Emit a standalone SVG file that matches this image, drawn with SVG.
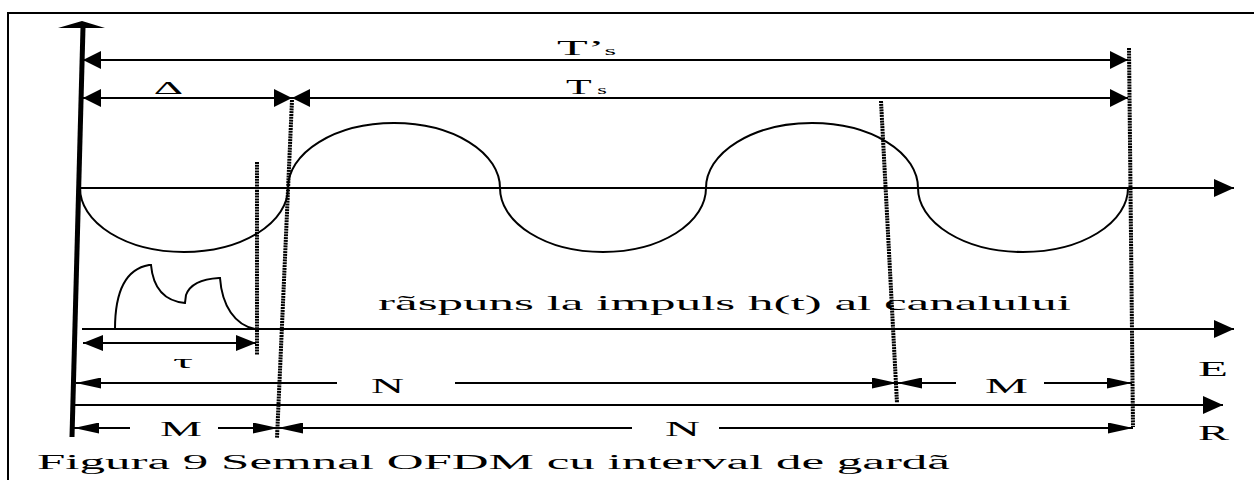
<svg xmlns="http://www.w3.org/2000/svg" width="1254" height="480" viewBox="0 0 1254 480">
<style>
.ln{stroke:#000;stroke-width:2;fill:none}
.dot{stroke:#000;stroke-width:4;stroke-dasharray:2 0.8;fill:none}
.curve{stroke:#000;stroke-width:2;fill:none}
text{font-family:"Liberation Serif","Times New Roman",serif;fill:#000}
</style>
<defs>
<marker id="big" viewBox="0 0 18 18" refX="18" refY="9" markerWidth="18" markerHeight="18" markerUnits="userSpaceOnUse" orient="auto-start-reverse"><path d="M0,0 L18,9 L0,18 z"/></marker>
<marker id="ax" viewBox="0 0 20 18" refX="20" refY="9" markerWidth="20" markerHeight="18" markerUnits="userSpaceOnUse" orient="auto-start-reverse"><path d="M0,0 L20,9 L0,18 z"/></marker>
<marker id="tau" viewBox="0 0 20 16" refX="20" refY="8" markerWidth="20" markerHeight="16" markerUnits="userSpaceOnUse" orient="auto-start-reverse"><path d="M0,0 L20,8 L0,16 z"/></marker>
<marker id="thin" viewBox="0 0 25 11" refX="25" refY="5.5" markerWidth="25" markerHeight="11" markerUnits="userSpaceOnUse" orient="auto-start-reverse"><path d="M0,0 L25,5.5 L0,11 z"/></marker>
</defs>
<rect x="0" y="0" width="1254" height="480" fill="#fff"/>
<rect x="8" y="13" width="1300" height="520" fill="none" stroke="#000" stroke-width="2"/>

<g id="vertical-axis">
<line x1="83" y1="27" x2="72" y2="437" stroke="#000" stroke-width="5"/>
<polygon points="58,28 82,21 105,28"/>
</g>

<g id="ofdm-signal">
<path class="curve" d="M80,188 A104,64 0 0 0 288,188 A106,65 0 0 1 500,188 A103,64 0 0 0 706,188 A106,65 0 0 1 918,188 A105,64 0 0 0 1128,188"/>
</g>

<g id="impulse-response">
<path class="curve" stroke-width="2.5" d="M115,329 C115,292 126,269 149,265 L151,265 C153,287 164,301 185,303 L186,295 C190,284 202,279 219,278 L220,278 C222,306 235,325 255,329"/>
</g>

<g id="guard-lines">
<line class="dot" x1="257" y1="162" x2="257" y2="355"/>
<line class="dot" x1="292" y1="100" x2="277" y2="438"/>
<line class="dot" x1="881" y1="101" x2="897" y2="403"/>
<line class="dot" x1="1129" y1="48" x2="1133" y2="427"/>
</g>

<g id="connectors">
<line class="ln" x1="83" y1="60" x2="1128" y2="60" marker-start="url(#big)" marker-end="url(#big)"/>
<line class="ln" x1="83" y1="98" x2="292" y2="98" marker-start="url(#big)" marker-end="url(#big)"/>
<line class="ln" x1="292" y1="98" x2="1128" y2="98" marker-start="url(#big)" marker-end="url(#big)"/>
<line class="ln" x1="80" y1="188" x2="1234" y2="188" marker-end="url(#ax)"/>
<line class="ln" x1="82" y1="329" x2="1234" y2="329" marker-end="url(#ax)"/>
<line class="ln" x1="83" y1="343" x2="256" y2="343" marker-start="url(#tau)" marker-end="url(#tau)"/>
<line class="ln" x1="76" y1="383" x2="337" y2="383" marker-start="url(#thin)"/>
<line class="ln" x1="455" y1="383" x2="897" y2="383" marker-end="url(#thin)"/>
<line class="ln" x1="897" y1="383" x2="956" y2="383" marker-start="url(#thin)"/>
<line class="ln" x1="1044" y1="383" x2="1132" y2="383" marker-end="url(#thin)"/>
<line class="ln" x1="74" y1="405" x2="1223" y2="405" marker-end="url(#ax)"/>
<line class="ln" x1="74" y1="428" x2="130" y2="428" marker-start="url(#thin)"/>
<line class="ln" x1="218" y1="428" x2="278" y2="428" marker-end="url(#thin)"/>
<line class="ln" x1="278" y1="428" x2="632" y2="428" marker-start="url(#thin)"/>
<line class="ln" x1="719" y1="428" x2="1133" y2="428" marker-end="url(#thin)"/>
</g>

<g id="labels">
<text x="557" y="55" font-size="22" textLength="59" lengthAdjust="spacingAndGlyphs">T’<tspan font-size="13">s</tspan></text>
<text x="566" y="94" font-size="22" textLength="41" lengthAdjust="spacingAndGlyphs">T<tspan font-size="13" dx="3">s</tspan></text>
<text x="155" y="94" font-size="18" textLength="28" lengthAdjust="spacingAndGlyphs">∆</text>
<text x="173" y="368" font-size="19" textLength="20" lengthAdjust="spacingAndGlyphs">τ</text>
<text x="378" y="310" font-size="22" textLength="693" lengthAdjust="spacingAndGlyphs">rãspuns la impuls h(t) al canalului</text>
<text x="371" y="393" font-size="20" textLength="33" lengthAdjust="spacingAndGlyphs">N</text>
<text x="985" y="393" font-size="20" textLength="43" lengthAdjust="spacingAndGlyphs">M</text>
<text x="160" y="436" font-size="20" textLength="42" lengthAdjust="spacingAndGlyphs">M</text>
<text x="665" y="436" font-size="20" textLength="35" lengthAdjust="spacingAndGlyphs">N</text>
<text x="1198" y="376" font-size="20" textLength="30" lengthAdjust="spacingAndGlyphs">E</text>
<text x="1198" y="440" font-size="20" textLength="31" lengthAdjust="spacingAndGlyphs">R</text>
<text x="37" y="469" font-size="20" textLength="913" lengthAdjust="spacingAndGlyphs">Figura 9 Semnal OFDM cu interval de gardã</text>
</g>
</svg>
